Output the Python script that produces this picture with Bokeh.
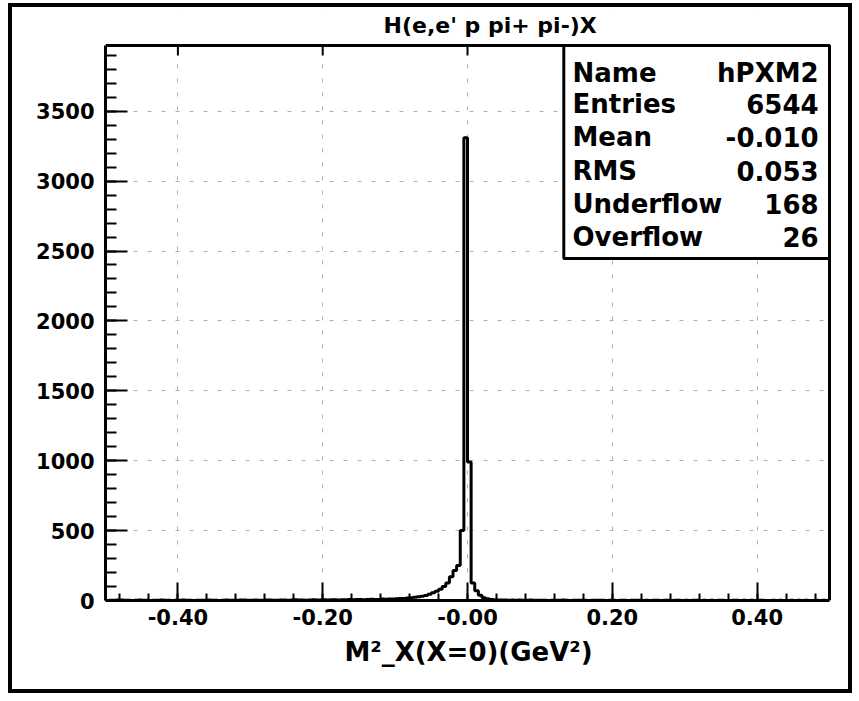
import numpy as np
from bokeh.plotting import figure
from bokeh.models import FixedTicker, Range1d
from bokeh.layouts import column
from bokeh.core.properties import value
from bokeh.embed import file_html
from bokeh.resources import INLINE

# ---------------- data ----------------
title_text = "H(e,e' p pi+ pi-)X"
x_label = "M\u00b2_X(X=0)(GeV\u00b2)"

x_lo, x_hi, n_bins = -0.5, 0.5, 200
# counts per bin (bin width 0.005)
bg_left = [0, 1, 2, 4, 3, 1, 2, 0, 1, 3,
           2, 1, 0, 2, 1, 3, 2, 1, 0, 1,
           2, 3, 1, 2, 0, 1, 2, 1, 3, 2,
           1, 0, 2, 3, 2, 1, 2, 4, 3, 2,
           1, 3, 2, 2, 4, 3, 2, 1, 3, 4,
           2, 3, 5, 4, 3, 2, 4, 5, 3, 4,
           5, 4, 6, 5, 4, 6, 5, 7, 6, 8,
           7, 6, 8, 9, 7, 8, 10, 9, 11, 10]          # -0.50 .. -0.10
tail_left = [12, 14, 15, 18, 20, 23, 26, 30, 36, 44]  # -0.10 .. -0.05
core_left = [55, 66, 80, 100, 125, 170, 215, 250, 500, 3310]  # -0.05 .. 0
core_right = [990, 125, 70, 38, 20, 12, 8, 6, 4, 3]   # 0 .. 0.05
bg_right = [3, 2, 4, 2, 3, 1, 2, 3, 1, 2,
            1, 2, 0, 1, 2, 1, 3, 1, 0, 1,
            2, 1, 1, 0, 2, 1, 1, 2, 0, 1,
            1, 0, 2, 1, 0, 1, 1, 2, 0, 1,
            0, 1, 1, 0, 2, 1, 0, 1, 1, 0,
            1, 0, 1, 2, 0, 1, 0, 1, 0, 1,
            1, 0, 0, 1, 2, 0, 1, 0, 1, 0,
            1, 1, 0, 0, 1, 0, 1, 0, 0, 1,
            0, 1, 0, 1, 0, 0, 1, 0, 1, 0]             # 0.05 .. 0.50

stat_names = ["Name", "Entries", "Mean", "RMS", "Underflow", "Overflow"]
stat_values = ["hPXM2", "6544", "-0.010", "0.053", "168", "26"]

x_major = [-0.4, -0.2, 0.0, 0.2, 0.4]
x_major_labels = ["-0.40", "-0.20", "-0.00", "0.20", "0.40"]
y_major = [0, 500, 1000, 1500, 2000, 2500, 3000, 3500]

# ---------------- build ----------------
counts = bg_left + tail_left + core_left + core_right + bg_right
edges = np.linspace(x_lo, x_hi, n_bins + 1)
step_y = counts + [counts[-1]]

y_top = 3970                 # top of the histogram frame
py = y_top / 555.0           # y data units per pixel
px = 1.0 / 724.0             # x data units per pixel
fig_w, fig_h = 836, 682
b_left, b_bottom, b_top = 93, 89, 4
b_right = 17
frame_h = fig_h - b_bottom - b_top
y_end = frame_h * py         # frame extends up to hold the title
x_end = x_hi + 2 * px

p = figure(width=fig_w, height=fig_h, x_range=Range1d(x_lo, x_end), y_range=Range1d(0, y_end),
           output_backend="svg", toolbar_location=None,
           min_border_left=b_left, min_border_right=b_right, min_border_top=b_top,
           min_border_bottom=b_bottom, x_axis_label=x_label)
p.background_fill_color = "white"
p.border_fill_color = "white"
p.outline_line_color = None

x_minor = [round(v, 2) for v in np.arange(-0.48, 0.49, 0.04)]
y_minor = list(range(100, 4000, 100))

xa = p.xaxis[0]
xa.ticker = FixedTicker(ticks=x_major, minor_ticks=x_minor)
xa.major_label_overrides = {t: l for t, l in zip(x_major, x_major_labels)}
xa.bounds = (x_lo, x_hi)
ya = p.yaxis[0]
ya.ticker = FixedTicker(ticks=y_major, minor_ticks=y_minor)
ya.bounds = (0, y_top)

for ax in (xa, ya):
    ax.axis_line_width = 3
    ax.axis_line_color = "black"
    ax.major_tick_out = 0
    ax.minor_tick_out = 0
    ax.major_tick_line_width = 2
    ax.minor_tick_line_width = 2
    ax.major_tick_line_color = "black"
    ax.minor_tick_line_color = "black"
    ax.major_label_text_font = "DejaVu Sans"
    ax.major_label_text_font_style = "bold"
    ax.major_label_text_font_size = "21px"
    ax.major_label_text_color = "black"
xa.major_tick_in = 18
xa.minor_tick_in = 7
xa.major_label_standoff = 8
ya.major_tick_in = 22
ya.minor_tick_in = 11
ya.major_label_standoff = 11

xa.axis_label_text_font = "DejaVu Sans"
xa.axis_label_text_font_style = "bold"
xa.axis_label_text_font_size = "26px"
xa.axis_label_text_color = "black"
xa.axis_label_standoff = 9

for g, tk in ((p.xgrid[0], x_major), (p.ygrid[0], y_major)):
    g.ticker = FixedTicker(ticks=tk)
    g.grid_line_color = "#b0b0b0"
    g.grid_line_dash = "4 10"
    g.grid_line_width = 1

p.step(x=list(edges), y=step_y, mode="after", line_color="black", line_width=3)

# white band above the histogram frame (holds the title)
p.quad(left=[x_lo - 0.1], right=[x_end + 0.1], bottom=[y_top], top=[y_end + 100],
       fill_color="white", line_color=None)

# frame: top and right edges
p.segment(x0=[x_lo, x_hi], y0=[y_top, 0], x1=[x_hi, x_hi], y1=[y_top, y_top],
          line_color="black", line_width=3)
# short ticks along the top edge at the major x ticks (10 px long)
p.segment(x0=x_major, y0=[y_top] * len(x_major), x1=x_major,
          y1=[y_top - 10 * py] * len(x_major), line_color="black", line_width=2)

# statistics box
box_left, box_bottom = 0.133, 2446
p.quad(left=[box_left], right=[x_hi], bottom=[box_bottom], top=[y_top],
       fill_color="white", line_color="black", line_width=3)
row_y = [3770, 3548, 3312, 3069, 2833, 2597]
p.text(x=[0.145] * len(stat_names), y=row_y, text=stat_names,
       text_font=value("DejaVu Sans"), text_font_style="bold", text_font_size="26px",
       text_baseline="middle", text_align="left", text_color="black")
p.text(x=[0.485] * len(stat_values), y=row_y, text=stat_values,
       text_font=value("DejaVu Sans"), text_font_style="bold", text_font_size="26px",
       text_baseline="middle", text_align="right", text_color="black")

# title above the histogram frame
p.text(x=[-0.116], y=[y_top + 20 * py], text=[title_text],
       text_font=value("DejaVu Sans"), text_font_style="bold", text_font_size="22px",
       text_baseline="middle", text_align="left", text_color="black")

layout = column(p, styles={"border": "4px solid black", "margin-left": "8px", "margin-top": "3px"})

open("out.html", "w").write(file_html(layout, INLINE))
